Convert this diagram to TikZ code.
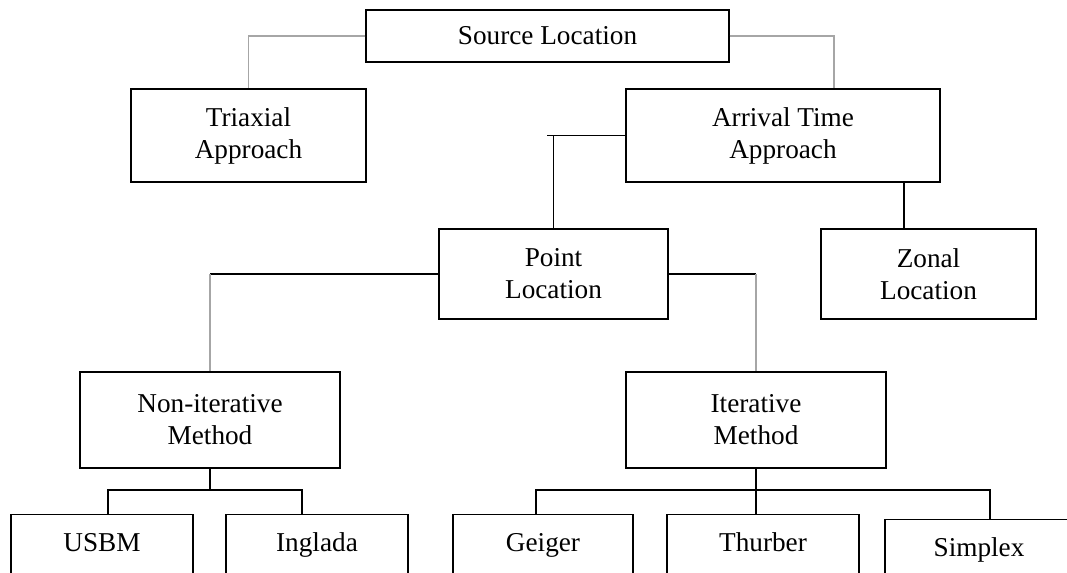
\documentclass[tikz,border=0pt]{standalone}
\usepackage{fontspec}
\setmainfont{Liberation Serif}
\usepackage{tikz}

\tikzset{
	box/.style={draw, line width=0.8pt, align=center, inner sep=0pt,
		font=\fontsize{15.5}{18.2}\selectfont},
	leaf/.style={box, anchor=north, text height=12pt, text depth=3cm, inner ysep=9pt},
	link/.style={line width=0.8pt},
	glink/.style={line width=0.8pt, gray!70}
}

\begin{document}
\begin{tikzpicture}[x=0.02cm, y=-0.02cm]
		\useasboundingbox (0,0) rectangle (1067,573);

		% Top level.
		\node[box, minimum width=7.26cm, minimum height=1.04cm] (src) at (547.5,36) {Source Location};
		\node[box, minimum width=4.7cm, minimum height=1.86cm] (tri) at (248.5,135.5) {Triaxial\\Approach};
		\node[box, minimum width=6.28cm, minimum height=1.86cm] (arr) at (783,135.5) {Arrival Time\\Approach};

		% Second level.
		\node[box, minimum width=4.58cm, minimum height=1.8cm] (pt) at (553.5,274) {Point\\Location};
		\node[box, minimum width=4.3cm, minimum height=1.8cm] (zon) at (928.5,274) {Zonal\\Location};

		% Methods.
		\node[box, minimum width=5.2cm, minimum height=1.92cm] (ni) at (210,420) {Non-iterative\\Method};
		\node[box, minimum width=5.2cm, minimum height=1.92cm] (it) at (756,420) {Iterative\\Method};

		% Bottom row, cut by the page.
		\node[leaf, minimum width=3.64cm] (usb) at (102,514) {USBM};
		\node[leaf, minimum width=3.64cm] (ing) at (317,514) {Inglada};
		\node[leaf, minimum width=3.6cm] (gei) at (543,514) {Geiger};
		\node[leaf, minimum width=3.84cm] (thu) at (763,514) {Thurber};
		\node[leaf, minimum width=3.76cm] (sim) at (979,519) {Simplex};

		% Connectors.
		\coordinate (atop) at ([xshift=1.02cm]arr.north);
		\coordinate (ztop) at ([xshift=-0.49cm]zon.north);
		\coordinate (utop) at ([xshift=0.12cm]usb.north);
		\coordinate (itop) at ([xshift=-0.3cm]ing.north);
		\coordinate (gtop) at ([xshift=-0.14cm]gei.north);
		\coordinate (stop) at ([xshift=0.22cm]sim.north);
		\coordinate (nbus) at (0,490);
		\coordinate (ibus) at (0,490);

		\draw[glink] (src.west) -| (tri.north);
		\draw[glink] (src.east) -| (atop);
		\draw[link] (arr.west) -- ([xshift=-0.14cm]arr.west -| pt.north);
		\draw[link] (arr.west -| pt.north) -- (pt.north);
		\draw[link] (ztop) -- (ztop |- arr.south);
		\draw[link] (pt.west) -- (pt.west -| ni.north);
		\draw[glink] (pt.west -| ni.north) -- (ni.north);
		\draw[link] (pt.east) -- (pt.east -| it.north);
		\draw[glink] (pt.east -| it.north) -- (it.north);

		\draw[link] (ni.south) -- (ni.south |- nbus);
		\draw[link] (utop) |- (itop |- nbus) -- (itop);
		\draw[link] (it.south) -- (it.south |- thu.north);
		\draw[link] (gtop) |- (stop |- ibus) -- (stop);

	\end{tikzpicture}
\end{document}
